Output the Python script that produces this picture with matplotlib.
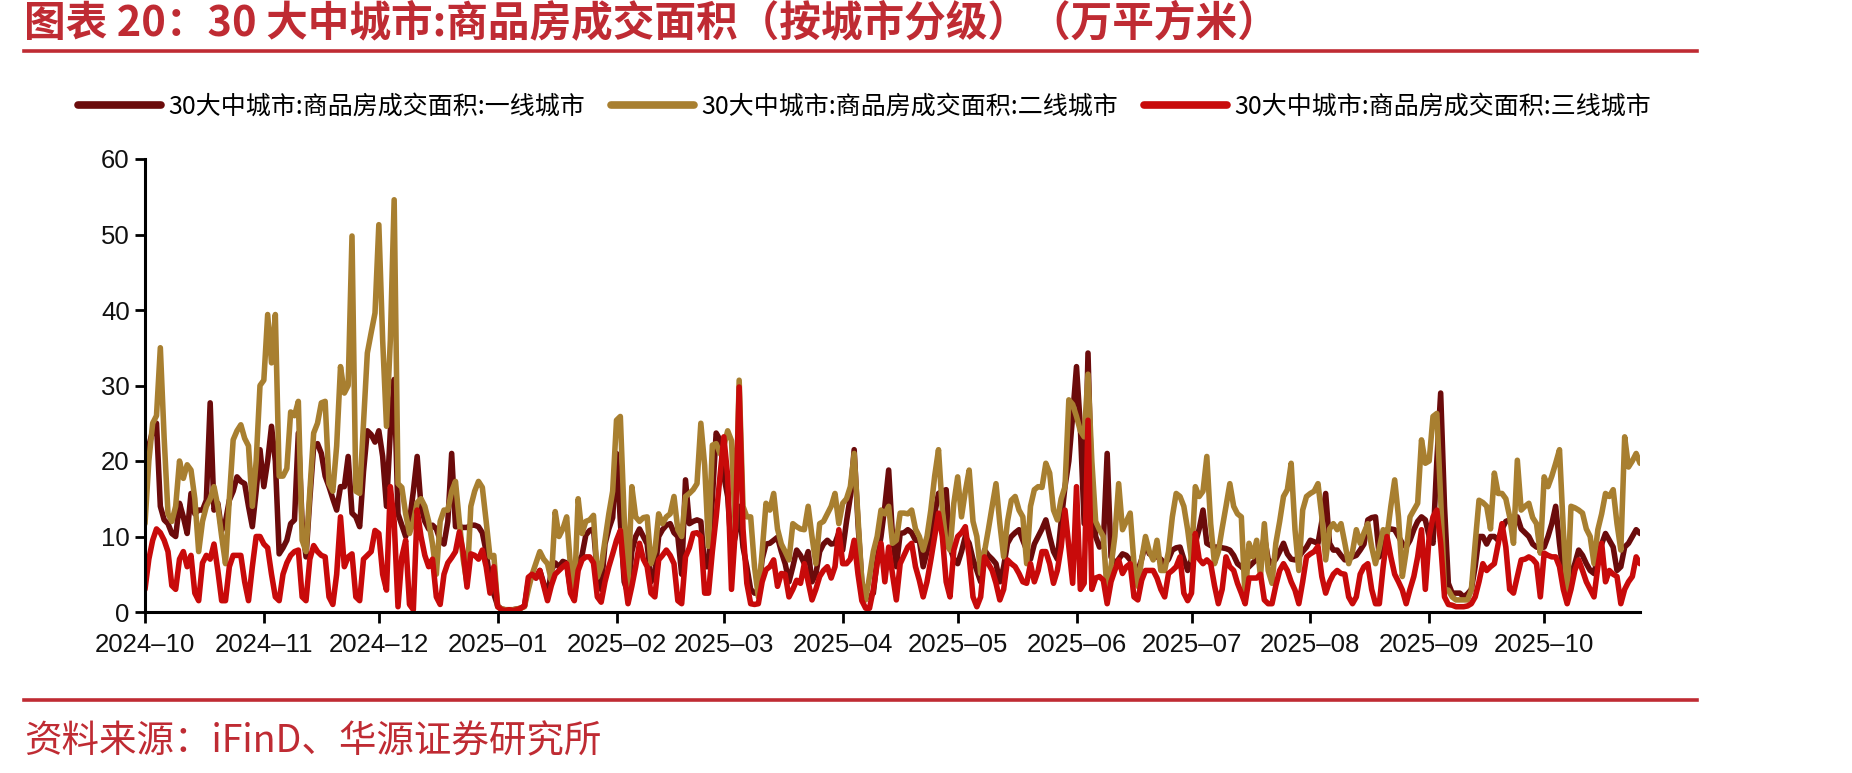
import matplotlib
matplotlib.use("Agg")
import matplotlib.pyplot as plt
from matplotlib.lines import Line2D
import pandas as pd

# ---------------- data (daily, 2024-10-01 .. 2025-10-26) ----------------
start_date = "2024-10-01"

tier1 = [  # 一线城市
    18, 22, 24, 25, 14, 12.2, 11.7, 10.4, 10, 14.4, 12.6, 10.4, 15.7, 13, 13.5, 13.5, 14.8, 27.7, 13.5, 14.4, 10.8, 12, 14.8, 16, 17.9, 17.3, 17, 14, 11.3, 16, 21.5,
    16.6, 20, 24.6, 20, 7.7, 8.5, 9.5, 11.7, 12.2, 23.7, 11.7, 7.3, 15, 21.9, 22.3, 21, 18, 16.6, 15, 13.5, 16.6, 16.6, 20.6, 13.1, 12.6, 11.3, 18.6, 24, 23.5, 22.5,
    24, 20.6, 14, 24, 30.8, 13, 11.5, 10, 12, 16, 20.6, 14, 12, 11, 11.5, 11, 9.5, 9, 12, 21, 11.3, 11.3, 11.2, 11.2, 11.5, 11.5, 11.3, 10.5, 8, 4, 2.4,
    0.8, 0.4, 0.3, 0.3, 0.3, 0.4, 0.5, 0.8, 4, 5, 4.5, 5.5, 3.8, 2, 5.5, 6.5, 6, 6.7, 6.5, 3, 2, 6.5, 7.5, 10.2, 10.8, 11, 5, 3, 9, 11, 12.5,
    21, 12, 4, 2.5, 8, 10, 11, 10, 9, 4, 5, 10, 10.9, 11.5, 11.7, 10.5, 10, 5, 17.5, 11.7, 12, 12.2, 12, 6, 6, 15, 23.7, 22.8,
    18, 15.3, 8, 10, 14, 8.6, 6, 3, 2.5, 2.5, 7, 9, 9.1, 9.5, 9.9, 8, 6.4, 4, 6, 8.2, 7.5, 6.4, 8, 4, 5, 8, 9, 9.5, 9, 9.1, 10.5,
    8.2, 12, 15.3, 21.5, 11.7, 4, 2, 2, 2.5, 7, 10, 14, 18.8, 10, 6, 10.4, 10.5, 10.9, 10.5, 9.5, 9.5, 6, 8, 10, 13, 15.7, 16, 16.2, 8.6, 7,
    6.4, 8, 10, 9.1, 7, 5.5, 4, 8.2, 7.5, 7, 6.4, 4, 6, 9.1, 10, 10.5, 10.9, 9.5, 8.2, 7, 9, 10, 11, 12.2, 10, 8, 7, 12, 16.6, 20, 26,
    32.5, 24.5, 11.7, 34.3, 15.3, 10, 8.6, 9.1, 21, 7.3, 6.4, 7, 7.7, 7.5, 6.9, 6, 5.5, 7, 9.1, 7.7, 7.5, 7.3, 7, 6.4, 7, 8.2, 8.5, 8.6, 7, 5.5,
    7, 9.1, 11, 13.5, 9.1, 8.8, 8.6, 8.6, 8.5, 8.4, 8.2, 7.5, 6.4, 6, 5.5, 6, 6.5, 7, 7.3, 10, 7, 6.4, 7, 8, 9.1, 7.7, 7, 6.9, 7.3, 8, 8.6,
    9.5, 9.3, 9.1, 12, 15.7, 9.1, 8.2, 8.2, 7.5, 6.9, 7, 7.3, 7.5, 8.2, 9, 12.2, 12.5, 12.6, 7.3, 9, 10.9, 11, 10.9, 10, 9.1, 8.6, 9.5, 10.9, 12, 12.6, 12.2,
    10, 9.1, 20, 29, 14, 3.8, 2.5, 2.5, 2.5, 2, 2.4, 3, 6, 10, 10, 9, 10, 10, 9.5, 11, 12, 12.2, 12.4, 12.6, 11, 10.5, 10, 9, 8.6, 8.5,
    8.6, 10, 11.7, 14, 9.1, 5, 2.9, 5, 6.4, 8.2, 7.5, 6.4, 5.5, 5.1, 7.3, 9, 10.4, 9.5, 8.6, 5.5, 6, 8.6, 9.1, 10, 10.9, 10.4,
]

tier2 = [  # 二线城市
    11.7, 20, 25, 26, 35, 23, 13, 12, 14, 20, 17.7, 19.5, 18.8, 15, 8, 12, 14, 15, 16.6, 14, 10, 6.4, 15, 22.8, 24, 24.8, 23, 22, 14, 20, 30,
    30.7, 39.4, 33, 39.4, 18, 18, 19, 26.5, 26, 27.9, 9.5, 8, 16, 23.7, 25, 27.7, 27.9, 17, 16, 22, 32.5, 29, 30, 49.8, 16, 15.7, 25, 34.3, 37, 39.6,
    51.3, 36, 24.6, 36, 54.6, 17, 16.5, 13, 10.4, 12, 14.5, 15, 14, 12, 9, 5, 12, 13.5, 13.5, 16, 17.3, 12, 7, 3.8, 14, 16, 17.3, 16.5, 12, 7.3, 7.5,
    0.7, 0.4, 0.3, 0.3, 0.3, 0.4, 0.5, 0.7, 3, 5, 6.5, 8, 7, 6.4, 4.2, 13.3, 10, 11, 12.6, 6, 2.4, 15, 10.4, 12, 12.2, 12.8, 4.6, 6, 9.5, 13, 16,
    25.4, 25.9, 12.6, 3.3, 16.6, 12.6, 12, 12.5, 12.6, 6.4, 8, 13, 11.7, 12.6, 13, 15.3, 10.9, 10, 15.3, 15.7, 16.2, 17, 25, 19.4, 8.7, 22.1, 22.3, 21,
    22, 24, 22.7, 11, 30.7, 14, 12.6, 12.6, 6, 2, 8, 14.4, 13.5, 15.7, 11, 9, 8, 6.9, 11.7, 11.3, 11, 10.9, 14, 10, 6.4, 11.7, 12, 13, 14, 15.7, 11.7,
    14.4, 15, 16.6, 21, 12.6, 4, 1.6, 4.7, 8, 10, 13.5, 13, 14, 9.1, 9.5, 13.1, 13.1, 13, 13.5, 11, 10, 8.2, 10, 13.5, 18, 21.5, 13.5, 9, 8.2, 14.4,
    17.9, 12.6, 16, 18.8, 12, 10, 5.1, 8, 10.9, 14, 17, 11.7, 7.3, 12, 14.8, 15.3, 13.5, 12.6, 6.4, 14, 16.2, 16.6, 16.5, 19.7, 18.4, 13.5, 12.2, 15, 16.6, 28.1, 27.5,
    25.9, 24, 23.2, 31.5, 20, 12, 10.9, 10, 2.5, 6, 10, 17, 10.9, 12, 13.1, 6.4, 3.4, 7, 10, 8, 6.9, 9.5, 5.5, 5.5, 8, 12.6, 15.7, 15.3, 14, 10.9,
    6.9, 16.6, 15.3, 16, 20.6, 11.7, 6.4, 8, 11.1, 14, 17, 14, 13, 12.6, 1.6, 9.1, 7.3, 9.5, 4.7, 11.7, 5.5, 3.8, 9.1, 12, 15.3, 16.2, 19.7, 10.9, 5.5, 13.5, 15.3,
    15.7, 16, 17, 12.6, 6.9, 11, 11.7, 10.9, 11.7, 9.1, 6.4, 8, 10.9, 9.1, 10.5, 11.7, 8.6, 6.4, 8.5, 10.9, 10, 14, 17.5, 12.6, 4.7, 8, 12.6, 13.5, 14.4, 22.8, 19.7,
    20, 25.9, 26.3, 15, 2.9, 2.9, 2, 1.6, 1.6, 1.6, 1.6, 2.9, 9.1, 14.8, 14.5, 14, 11, 18.4, 15.7, 15.7, 15, 12.6, 9.1, 20.1, 13.5, 14, 14.4, 12.5, 11.7, 7.8,
    17.9, 16.6, 18, 19.7, 21.5, 10.9, 2, 14, 13.8, 13.5, 13.1, 11, 10, 6.4, 10.9, 13, 15.7, 15.3, 16.2, 11.7, 8.2, 23.2, 19.2, 20, 21, 19.7,
]

tier3 = [  # 三线城市
    3, 7, 9.5, 11, 10.5, 9.5, 8, 3.5, 3, 7, 8, 6, 7.5, 2.5, 1.5, 6.5, 7.5, 7, 9, 5.5, 1.5, 1.5, 6, 7.5, 7.5, 7.5, 4, 1.5, 6, 10, 10,
    9, 8.5, 5, 2, 1.5, 5, 6.5, 7.5, 8, 8.2, 2, 1.5, 7, 8.8, 8, 7.5, 7.3, 2, 1, 5, 12.6, 6, 7.3, 7.7, 2, 1.5, 7, 7.5, 8, 10.8,
    10.4, 5, 2.9, 16.6, 12, 0.7, 7.3, 9.5, 1, 0.3, 13.5, 10, 7.5, 6, 7, 2, 1, 5, 6.5, 7.2, 8, 10.6, 8, 3.3, 7.7, 7.5, 7, 8.2, 6, 2.5, 6,
    0.7, 0.3, 0.2, 0.3, 0.2, 0.3, 0.5, 0.8, 4.6, 5, 4.5, 5.5, 3.5, 1.5, 3.5, 5, 5.5, 6, 6.4, 2.5, 1.5, 5.5, 6.9, 7.3, 7.3, 6.5, 2, 1.3, 4, 6, 7.7,
    9.5, 10.8, 5, 1.1, 3.4, 6, 9.1, 7, 6, 2.5, 2, 6.9, 7.5, 8.2, 7.5, 6.4, 1.5, 1.1, 7.3, 8.5, 10.4, 10.5, 10, 2.5, 2.5, 8, 12.6, 18,
    23.2, 18, 3, 10.9, 29.8, 11, 3.8, 1.1, 1, 1.1, 4, 5.6, 6, 6.9, 3.4, 5.1, 5, 2, 3, 4.2, 3.8, 6.4, 4, 1.6, 3, 4.7, 5.5, 6, 4.5, 6, 10.9,
    6.4, 6.4, 7, 9.5, 5, 1.5, 0.5, 0.5, 3, 6.4, 9.1, 4, 8.6, 5, 1.6, 6.4, 7.5, 8.6, 9.1, 6, 4.2, 2, 4, 6.9, 10, 13.1, 10, 4, 2, 8.2,
    10, 10.5, 11.3, 7.3, 2, 0.7, 2, 7.3, 6.4, 5.5, 3.8, 1.6, 3, 6.9, 6.4, 6, 5.1, 4, 3.8, 6.4, 4, 5.5, 8, 8, 6.4, 3.8, 5.5, 8.6, 13.5, 8.6, 3.8,
    16.6, 3, 3.8, 25.4, 3, 4.5, 4.7, 4.2, 1.1, 4, 5.5, 6.9, 5.1, 6, 6.4, 2, 1.6, 4.2, 5.5, 5.5, 5.5, 4.5, 3, 2, 5.1, 5.5, 6, 7.3, 2.5, 1.5,
    2.5, 10.4, 7, 6.4, 6.9, 6.4, 3.5, 1.1, 3, 7.3, 6, 5.5, 3.8, 2.5, 1.1, 4.5, 4.5, 4.5, 5, 1.6, 1.1, 1.1, 3.5, 5.5, 6.4, 5.5, 4, 2.9, 1.1, 4, 7.3,
    7.7, 8, 8.7, 4.7, 2.5, 4, 5, 5.5, 5.1, 5, 2, 1.1, 2, 5, 6, 6.4, 3, 1.1, 1.1, 6, 10, 7.3, 5, 4, 2.9, 1.1, 3, 4.7, 7.3, 10.9, 3,
    10, 12.6, 13.5, 9.1, 2, 1, 0.9, 0.7, 0.7, 0.7, 0.8, 1.1, 2, 4, 6.4, 5.5, 6, 6.4, 9, 11.7, 8.6, 3, 2.5, 4.7, 6.9, 7, 7.3, 7, 6.4, 2,
    7.8, 7.5, 7.3, 7.3, 6, 3, 1.1, 3, 5.5, 6.9, 5.5, 4, 3, 2, 6, 9.1, 4, 5.5, 5, 4.7, 1.1, 3, 4, 4.7, 7.3, 6.4,
]

series_names = [
    "30大中城市:商品房成交面积:一线城市",
    "30大中城市:商品房成交面积:二线城市",
    "30大中城市:商品房成交面积:三线城市",
]
tick_months = ["2024-10-01", "2024-11-01", "2024-12-01", "2025-01-01", "2025-02-01",
               "2025-03-01", "2025-04-01", "2025-05-01", "2025-06-01", "2025-07-01",
               "2025-08-01", "2025-09-01", "2025-10-01"]
tick_labels = ["2024–10", "2024–11", "2024–12", "2025–01", "2025–02", "2025–03", "2025–04",
               "2025–05", "2025–06", "2025–07", "2025–08", "2025–09", "2025–10"]
y_ticks = [0, 10, 20, 30, 40, 50, 60]

title = "图表 20：30 大中城市:商品房成交面积（按城市分级）（万平方米）"
source = "资料来源：iFinD、华源证券研究所"

# ---------------- styling ----------------
colors = ["#6B0B0B", "#A87F30", "#C80A0A"]
accent = "#BF2B33"
cjk = ["Noto Sans CJK SC", "DejaVu Sans"]
latin = ["Liberation Sans", "DejaVu Sans"]

W, H = 1852, 773
fig = plt.figure(figsize=(W / 100, H / 100), dpi=100)
fig.patch.set_facecolor("white")

ax = fig.add_axes([145 / W, 1 - 612 / H, (1640 - 145) / W, (612 - 159) / H])

dates = pd.date_range(start_date, periods=len(tier1), freq="D")
for vals, col, name in zip([tier1, tier2, tier3], colors, series_names):
    ax.plot(dates, vals, color=col, lw=4.0, label=name,
            solid_joinstyle="round", solid_capstyle="round")

ax.set_xlim(dates[0], dates[-1])
ax.set_ylim(0, 60)
ax.set_yticks(y_ticks)
ax.set_xticks(pd.to_datetime(tick_months))
ax.set_xticklabels(tick_labels)
for lab in ax.get_xticklabels() + ax.get_yticklabels():
    lab.set_fontfamily(latin)
    lab.set_fontsize(18.5)
    lab.set_color("#111111")

for s in ["top", "right"]:
    ax.spines[s].set_visible(False)
for s in ["left", "bottom"]:
    ax.spines[s].set_linewidth(2.2)
    ax.spines[s].set_color("black")
ax.tick_params(axis="y", direction="out", length=7, width=2, pad=4)
ax.tick_params(axis="x", direction="out", length=8, width=2, pad=7)

# legend
handles = [Line2D([0], [0], color=c, lw=5.5, solid_capstyle="round") for c in colors]
leg = fig.legend(handles, series_names, loc="center left", ncol=3,
                 bbox_to_anchor=(68 / W, 1 - 107 / H), frameon=False,
                 prop={"family": cjk, "size": 18}, handlelength=3.3,
                 handletextpad=0.3, columnspacing=1.05, borderaxespad=0)

# title and rules
fig.text(24 / W, 1 - 23 / H, title, fontsize=30, fontweight="bold", color=accent,
         family=cjk, va="center", ha="left")
fig.add_artist(Line2D([24 / W, 1697 / W], [1 - 51 / H, 1 - 51 / H], color=accent, lw=2.6,
                      transform=fig.transFigure))
fig.add_artist(Line2D([24 / W, 1697 / W], [1 - 700 / H, 1 - 700 / H], color=accent, lw=2.6,
                      transform=fig.transFigure))
fig.text(24 / W, 1 - 742 / H, source, fontsize=27, color=accent, family=cjk,
         va="center", ha="left")

fig.savefig("out.png", dpi=100, facecolor="white")
